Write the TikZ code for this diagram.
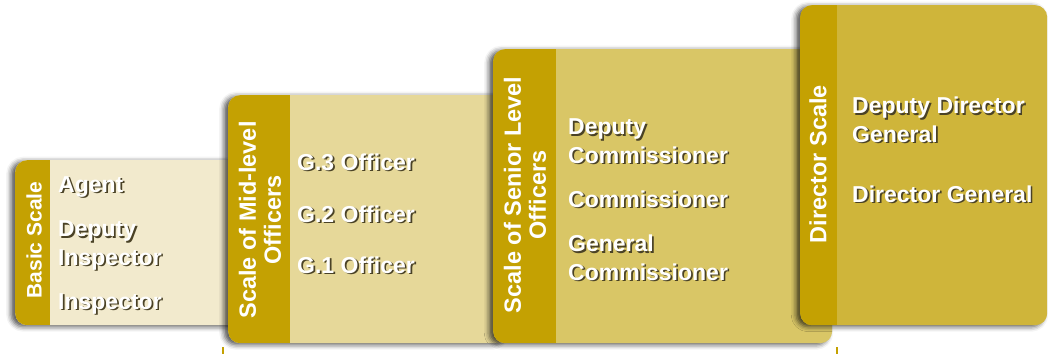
\documentclass[tikz,border=0pt]{standalone}
\usepackage{fontspec}
\setmainfont{Liberation Sans}
\usetikzlibrary{shadows.blur}
\definecolor{stripc}{HTML}{C4A102}
\definecolor{ca}{HTML}{F2EACD}
\definecolor{cb}{HTML}{E6D899}
\definecolor{cc}{HTML}{D9C666}
\definecolor{cd}{HTML}{CFB53A}
\definecolor{txtshadow}{HTML}{4A4226}
\newcommand{\stx}[1]{\leavevmode\rlap{\kern1.7pt\raisebox{-1.7pt}{\textcolor{txtshadow}{#1}}}#1}
\begin{document}
\begin{tikzpicture}[x=1pt,y=-1pt,
  panel/.style={rounded corners=12pt, inner sep=0pt, anchor=north west,
    blur shadow={shadow xshift=-4pt, shadow yshift=-1.5pt, shadow blur radius=5pt, shadow opacity=70},
    path picture={\fill[stripc, sharp corners] (path picture bounding box.north west) rectangle ([xshift=#1]path picture bounding box.south west);}},
  vlabel/.style={rotate=90, align=center, text=white, inner sep=0pt, font=\bfseries\fontsize{23.5}{25}\selectfont},
  item/.style={anchor=base west, inner sep=0pt, text=white, align=left, font=\bfseries\fontsize{23}{28.5}\selectfont}]
\useasboundingbox (0,0) rectangle (1048,353);
% bottom bracket (only its upper ends are visible)
\begin{scope}
\clip (0,0) rectangle (1048,353);
\coordinate (bl) at (223,347);
\coordinate (br) at (837,347);
\draw[stripc, line width=1.2pt] (bl) -- ++(0,15) -| (br);
\end{scope}
% box 1
\node[panel=35pt, fill=ca, minimum width=225pt, minimum height=165pt] (b1) at (15,160) {};
\node[vlabel, font=\bfseries\fontsize{21}{24}\selectfont] (l1) at (34,240) {Basic Scale};
\node[item] (t11) at (58,192) {\stx{Agent}};
\node[item] (t12) at (58,265) {\stx{Deputy}\\\stx{Inspector}};
\node[item] (t13) at (58,309) {\stx{Inspector}};
% box 2
\node[panel=62pt, fill=cb, minimum width=280pt, minimum height=248pt] (b2) at (228,95) {};
\node[vlabel] (l2) at (260,220) {Scale of Mid-level\\Officers};
\node[item] (t21) at (297,170) {\stx{G.3 Officer}};
\node[item] (t22) at (297,222) {\stx{G.2 Officer}};
\node[item] (t23) at (297,273) {\stx{G.1 Officer}};
% box 3
\node[panel=63pt, fill=cc, minimum width=339pt, minimum height=294pt] (b3) at (493,49) {};
\node[vlabel] (l3) at (525,195) {Scale of Senior Level\\Officers};
\node[item] (t31) at (568,163) {\stx{Deputy}\\\stx{Commissioner}};
\node[item] (t32) at (568,207) {\stx{Commissioner}};
\node[item] (t33) at (568,280) {\stx{General}\\\stx{Commissioner}};
% box 4
\node[panel=37pt, fill=cd, minimum width=247pt, minimum height=320pt] (b4) at (800,5) {};
\node[vlabel] (l4) at (818,164) {Director Scale};
\node[item] (t41) at (852,142) {\stx{Deputy Director}\\\stx{General}};
\node[item] (t42) at (852,202) {\stx{Director General}};
\end{tikzpicture}
\end{document}
